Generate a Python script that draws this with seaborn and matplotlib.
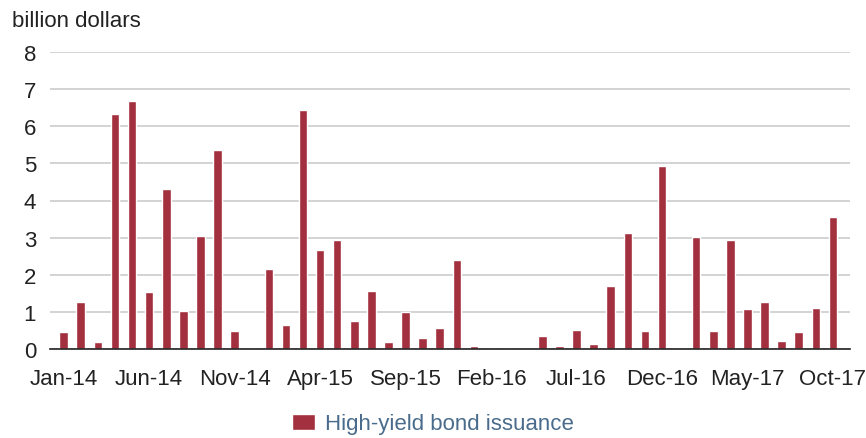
import pandas as pd
import numpy as np
import matplotlib.pyplot as plt
import seaborn as sns
from matplotlib.patches import Patch

# monthly high-yield bond issuance, Jan-14 .. Oct-17 (billion dollars)
meses = pd.date_range("2014-01-01", "2017-10-01", freq="MS").strftime("%b-%y").tolist()
emissao = [
    0.45, 1.27, 0.18, 6.32, 6.67, 1.53, 4.31, 1.03, 3.05, 5.35, 0.48, 0.0,
    2.15, 0.64, 6.44, 2.66, 2.94, 0.75, 1.57, 0.18, 0.99, 0.29, 0.56, 2.39,
    0.07, 0.0, 0.0, 0.0, 0.36, 0.07, 0.52, 0.14, 1.70, 3.12, 0.48, 4.93,
    0.0, 3.01, 0.48, 2.93, 1.07, 1.27, 0.21, 0.45, 1.10, 3.56,
]
rotulo_serie = "High-yield bond issuance"
cor_barra = "#A3303F"

df = pd.DataFrame({"Mes": meses, "Valor": emissao})

sns.set_style("white")
plt.rcParams["font.family"] = ["Liberation Sans", "DejaVu Sans"]

fig = plt.figure(figsize=(8.66, 4.39), dpi=100)
ax = fig.add_axes([50 / 866, 1 - 350 / 439, 800 / 866, 297 / 439])

sns.barplot(data=df, x="Mes", y="Valor", color=cor_barra, width=0.5,
            saturation=1, ax=ax)

ax.set_ylim(0, 8)
ax.set_xlim(-0.8, 46)
ax.set_yticks(range(0, 9))
ax.yaxis.grid(True, color="#cccccc", linewidth=1.2)
ax.set_axisbelow(True)

idx = list(range(0, len(meses), 5))
ax.set_xticks(idx)
ax.set_xticklabels([meses[i] for i in idx])

for lado in ["top", "right", "left"]:
    ax.spines[lado].set_visible(False)
ax.spines["bottom"].set_color("#222222")
ax.spines["bottom"].set_linewidth(1.2)

ax.tick_params(axis="x", length=6, width=1.2, color="#222222", pad=8,
               labelsize=16, labelcolor="#222222")
ax.tick_params(axis="y", length=0, pad=10, labelsize=16, labelcolor="#222222")
ax.set_xlabel("")
ax.set_ylabel("")

fig.text(12 / 866, 1 - 27 / 439, "billion dollars", fontsize=16,
         color="#222222", ha="left", va="baseline")

fig.legend(handles=[Patch(facecolor=cor_barra, label=rotulo_serie)],
           loc="center", bbox_to_anchor=(0.5, 1 - 425 / 439), frameon=False,
           fontsize=16, labelcolor="#4A6C8C", handlelength=1.0,
           handleheight=0.75, handletextpad=0.45)

fig.savefig("out.png", dpi=100)
